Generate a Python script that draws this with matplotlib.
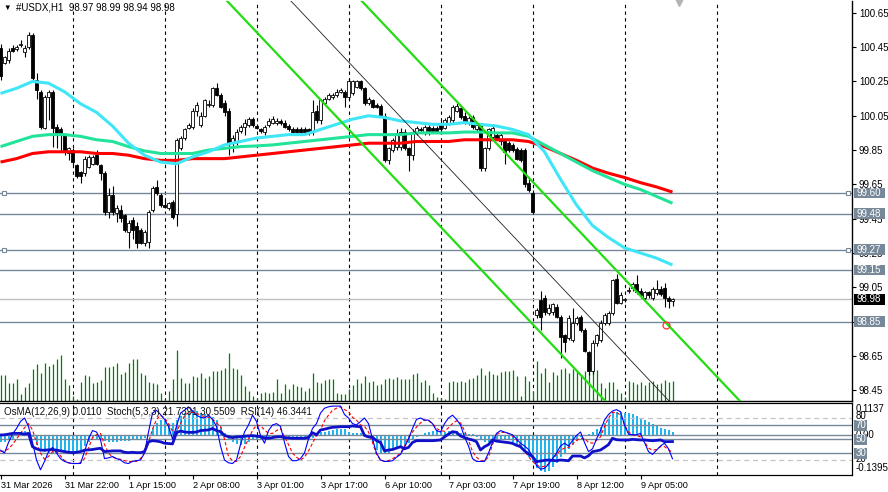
import numpy as np
import matplotlib
matplotlib.use('Agg')
from matplotlib import pyplot as plt
from matplotlib.patches import Rectangle

plt.rcParams['font.family'] = ['Liberation Sans', 'DejaVu Sans']

# ---------------- data (H1 bars, 31 Mar 2026 .. 9 Apr 2026) ----------------
opens = [100.445, 100.36, 100.375, 100.445, 100.44, 100.46, 100.42, 100.45, 100.52, 100.26,
         100.19, 99.98, 100.16, 100.19, 99.985, 99.97, 99.94, 99.83, 99.85, 99.76,
         99.72, 99.715, 99.75, 99.77, 99.82, 99.76, 99.715, 99.49, 99.59, 99.483,
         99.50, 99.47, 99.37, 99.44, 99.41, 99.384, 99.31, 99.315, 99.50, 99.635,
         99.59, 99.53, 99.51, 99.547, 99.48, 99.86, 99.92, 99.98, 99.985, 100.08,
         99.996, 100.05, 100.11, 100.11, 100.21, 100.17, 100.125, 100.08, 99.89, 99.90,
         99.96, 99.985, 99.996, 100.03, 99.99, 99.97, 99.955, 99.996, 100.01, 100.01,
         100.02, 100.01, 99.99, 99.973, 99.973, 99.973, 99.973, 99.97, 99.955, 100.08,
         100.025, 100.125, 100.15, 100.16, 100.17, 100.19, 100.19, 100.16, 100.18, 100.22,
         100.25, 100.21, 100.125, 100.14, 100.11, 100.107, 100.05, 99.79, 99.85, 99.87,
         99.87, 99.955, 99.86, 99.82, 99.95, 99.97, 99.955, 99.985, 99.98, 99.98,
         100.01, 99.98, 100.01, 100.025, 100.08, 100.095, 100.05, 100.01, 100.04, 99.97,
         99.996, 99.745, 99.86, 99.925, 99.94, 99.90, 99.90, 99.89, 99.88, 99.856,
         99.85, 99.85, 99.66, 99.60, 98.89, 98.975, 98.99, 98.90, 98.905, 98.935,
         98.876, 98.77, 98.755, 98.74, 98.84, 98.876, 98.80, 98.67, 98.56, 98.725,
         98.74, 98.84, 98.84, 98.90, 99.10, 98.96, 98.975, 99.03, 99.045, 99.07,
         99.03, 98.99, 99.02, 98.99, 99.016, 99.04, 99.045, 98.99, 98.97]
highs = [100.47, 100.40, 100.445, 100.46, 100.46, 100.49, 100.46, 100.54, 100.53, 100.30,
         100.20, 100.17, 100.20, 100.20, 100.00, 99.985, 99.95, 99.87, 99.86, 99.77,
         99.73, 99.815, 99.82, 99.82, 99.85, 99.77, 99.73, 99.63, 99.64, 99.53,
         99.53, 99.48, 99.44, 99.46, 99.43, 99.395, 99.384, 99.50, 99.64, 99.675,
         99.60, 99.56, 99.55, 99.56, 99.92, 99.93, 99.98, 100.01, 100.095, 100.13,
         100.07, 100.15, 100.14, 100.22, 100.24, 100.18, 100.14, 100.095, 99.94, 99.97,
         99.996, 100.03, 100.04, 100.04, 100.00, 99.98, 99.996, 100.035, 100.05, 100.035,
         100.03, 100.025, 100.00, 99.985, 99.985, 99.985, 99.985, 99.98, 100.14, 100.11,
         100.15, 100.16, 100.18, 100.18, 100.205, 100.21, 100.20, 100.27, 100.26, 100.26,
         100.26, 100.22, 100.16, 100.15, 100.125, 100.12, 100.065, 99.87, 99.92, 99.97,
         99.98, 99.97, 99.87, 99.97, 99.99, 99.985, 99.996, 99.996, 99.99, 99.99,
         100.025, 100.035, 100.055, 100.11, 100.125, 100.11, 100.07, 100.05, 100.055, 100.01,
         100.01, 99.87, 99.98, 100.00, 99.95, 99.95, 99.91, 99.90, 99.89, 99.87,
         99.86, 99.86, 99.69, 99.62, 98.93, 99.03, 99.005, 98.95, 98.96, 98.95,
         98.89, 98.78, 98.89, 98.93, 98.88, 98.89, 98.81, 98.68, 98.74, 98.78,
         98.86, 98.90, 98.91, 99.10, 99.13, 99.02, 98.99, 99.05, 99.08, 99.12,
         99.045, 99.03, 99.03, 99.05, 99.09, 99.06, 99.075, 99.00, 98.99]
lows = [100.26, 100.35, 100.36, 100.42, 100.43, 100.45, 100.39, 100.44, 100.26, 100.15,
        99.97, 99.97, 100.025, 99.87, 99.86, 99.84, 99.82, 99.79, 99.76, 99.69,
        99.66, 99.70, 99.745, 99.76, 99.76, 99.675, 99.47, 99.454, 99.47, 99.43,
        99.43, 99.37, 99.28, 99.33, 99.28, 99.30, 99.29, 99.28, 99.49, 99.59,
        99.52, 99.51, 99.50, 99.45, 99.41, 99.85, 99.91, 99.97, 99.97, 100.05,
        99.985, 100.04, 100.10, 100.10, 100.165, 100.095, 100.05, 99.82, 99.84, 99.88,
        99.95, 99.94, 99.985, 99.985, 99.97, 99.95, 99.94, 99.985, 100.00, 99.996,
        99.996, 99.98, 99.96, 99.95, 99.95, 99.95, 99.95, 99.94, 99.94, 100.01,
        100.00, 100.11, 100.14, 100.15, 100.16, 100.18, 100.10, 100.14, 100.17, 100.21,
        100.20, 100.11, 100.11, 100.095, 100.095, 100.04, 99.78, 99.77, 99.84, 99.85,
        99.85, 99.85, 99.73, 99.79, 99.94, 99.955, 99.94, 99.94, 99.95, 99.95,
        99.95, 99.97, 99.996, 100.01, 100.07, 100.03, 100.00, 99.996, 99.97, 99.955,
        99.73, 99.73, 99.85, 99.915, 99.91, 99.88, 99.77, 99.84, 99.84, 99.79,
        99.78, 99.635, 99.605, 99.477, 98.87, 98.80, 98.89, 98.89, 98.89, 98.87,
        98.64, 98.67, 98.74, 98.73, 98.83, 98.79, 98.67, 98.54, 98.545, 98.71,
        98.73, 98.83, 98.83, 98.89, 98.95, 98.95, 98.965, 99.015, 99.03, 99.01,
        98.99, 98.975, 98.99, 98.975, 99.005, 99.00, 98.935, 98.93, 98.94]
closes = [100.28, 100.39, 100.43, 100.43, 100.45, 100.47, 100.445, 100.52, 100.27, 100.20,
          99.985, 100.16, 100.19, 99.98, 99.95, 99.94, 99.84, 99.86, 99.78, 99.70,
          99.70, 99.80, 99.81, 99.81, 99.77, 99.715, 99.49, 99.59, 99.49, 99.51,
          99.454, 99.384, 99.425, 99.384, 99.31, 99.31, 99.37, 99.49, 99.63, 99.60,
          99.53, 99.52, 99.54, 99.46, 99.91, 99.92, 99.97, 99.996, 100.08, 100.11,
          100.05, 100.14, 100.12, 100.21, 100.17, 100.10, 100.07, 99.89, 99.92, 99.955,
          99.985, 100.01, 100.03, 99.996, 99.98, 99.96, 99.985, 100.02, 100.03, 100.02,
          100.01, 99.985, 99.97, 99.955, 99.955, 99.955, 99.955, 99.95, 100.07, 100.025,
          100.14, 100.15, 100.17, 100.17, 100.19, 100.20, 100.16, 100.25, 100.25, 100.25,
          100.21, 100.125, 100.15, 100.10, 100.10, 100.05, 99.79, 99.86, 99.91, 99.95,
          99.955, 99.86, 99.82, 99.95, 99.98, 99.965, 99.985, 99.955, 99.96, 99.96,
          99.97, 100.025, 100.04, 100.10, 100.107, 100.04, 100.01, 100.035, 99.985, 99.996,
          99.745, 99.86, 99.97, 99.98, 99.92, 99.94, 99.84, 99.85, 99.85, 99.80,
          99.79, 99.65, 99.62, 99.49, 98.92, 98.876, 98.905, 98.93, 98.95, 98.876,
          98.76, 98.73, 98.87, 98.84, 98.87, 98.80, 98.68, 98.56, 98.725, 98.77,
          98.84, 98.89, 98.90, 99.09, 98.96, 99.005, 98.98, 99.03, 99.07, 99.02,
          99.005, 99.02, 99.005, 99.04, 99.04, 99.01, 98.99, 98.97, 98.98]
volumes = [26, 26, 18, 18, 22, 7, 14, 18, 32, 37, 28, 38, 35, 37, 42, 46, 22, 16,
           5, 2,
           19, 26, 25, 18, 19, 21, 34, 34, 35, 38, 27, 29, 38, 42, 42, 28, 26, 19, 18, 17, 8, 2,
           10, 22, 51, 23, 18, 18, 25, 24, 28, 23, 25, 30, 30, 31, 33, 48, 33, 32, 26, 15, 10, 5,
           3, 8, 9, 8, 9, 22, 8, 17, 12, 17, 15, 14, 10, 13, 28, 19, 18, 21, 22, 22, 8, 7, 7,
           12, 16, 22, 18, 25, 19, 20, 16, 17, 22, 23, 22, 24, 22, 22, 22, 27, 28, 19, 21, 16, 8, 4,
           3, 2, 19, 20, 19, 20, 19, 22, 23, 26, 33, 26, 30, 27, 26, 29, 30, 30, 31, 25, 5, 25, 20,
           10, 40, 28, 33, 19, 29, 26, 32, 33, 28, 32, 30, 26, 30, 28, 34, 31, 18, 13, 19, 19, 12, 8,
           4, 20, 19, 17, 19, 16, 19, 20, 17, 18, 21, 19, 20]
vol_full = 400  # volume units spanning the whole price pane

# moving averages, read every 4th bar
ma_bars = list(range(0, 169, 4))
ma_fast = [100.18, 100.21, 100.25, 100.24, 100.19, 100.12, 100.07, 99.99, 99.89, 99.82,
           99.78, 99.77, 99.81, 99.84, 99.88, 99.90, 99.92, 99.93, 99.94, 99.94,
           99.97, 100.00, 100.03, 100.05, 100.04, 100.02, 100.01, 100.00, 100.00, 100.01,
           100.00, 99.99, 99.97, 99.94, 99.84, 99.68, 99.53, 99.41, 99.34, 99.28,
           99.25, 99.22, 99.18]
ma_mid = [99.87, 99.90, 99.93, 99.94, 99.94, 99.93, 99.91, 99.90, 99.87, 99.845,
          99.83, 99.83, 99.83, 99.85, 99.86, 99.87, 99.874, 99.88, 99.89, 99.90,
          99.91, 99.92, 99.93, 99.94, 99.94, 99.94, 99.95, 99.95, 99.95, 99.955,
          99.955, 99.95, 99.95, 99.93, 99.88, 99.83, 99.78, 99.73, 99.69, 99.65,
          99.62, 99.58, 99.54]
ma_slow = [99.78, 99.80, 99.83, 99.84, 99.84, 99.84, 99.83, 99.83, 99.82, 99.80,
           99.79, 99.79, 99.80, 99.80, 99.80, 99.81, 99.82, 99.83, 99.84, 99.85,
           99.86, 99.87, 99.88, 99.89, 99.89, 99.89, 99.90, 99.90, 99.90, 99.91,
           99.91, 99.91, 99.91, 99.90, 99.87, 99.83, 99.79, 99.745, 99.715, 99.69,
           99.66, 99.635, 99.605]

# indicator window
osma = [-0.025, -0.025, -0.018, -0.012, -0.004, 0.010, 0.015, 0.012, -0.005, -0.035,
        -0.051, -0.057, -0.061, -0.063, -0.061, -0.060, -0.057, -0.060, -0.061, -0.060,
        -0.051, -0.039, -0.024, -0.010, -0.012, -0.015, -0.021, -0.024, -0.024, -0.024,
        -0.021, -0.021, -0.020, -0.016, -0.015, -0.015, -0.011, 0.000, 0.025, 0.043,
        0.055, 0.050, 0.041, 0.042, 0.055, 0.067, 0.080, 0.086, 0.088, 0.084,
        0.080, 0.075, 0.070, 0.065, 0.055, 0.028, 0.008, -0.012, -0.022, -0.030,
        -0.033, -0.029, -0.024, -0.017, -0.014, -0.012, -0.012, -0.008, -0.005, -0.005,
        -0.005, -0.005, -0.007, -0.010, -0.012, -0.012, -0.012, -0.012, -0.008, 0.003,
        0.010, 0.012, 0.016, 0.019, 0.021, 0.024, 0.021, 0.012, 0.009, 0.009,
        0.007, 0.005, -0.005, -0.022, -0.051, -0.063, -0.066, -0.061, -0.051, -0.047,
        -0.040, -0.033, -0.026, -0.016, -0.006, 0.001, 0.007, 0.011, 0.015, 0.019,
        0.016, 0.013, 0.015, 0.016, 0.014, 0.009, 0.007, 0.006, 0.004, -0.005,
        -0.016, -0.022, -0.022, -0.020, -0.016, -0.014, -0.014, -0.016, -0.023, -0.033,
        -0.040, -0.054, -0.075, -0.095, -0.114, -0.124, -0.128, -0.124, -0.110, -0.096,
        -0.075, -0.061, -0.047, -0.034, -0.019, -0.007, 0.001, 0.006, 0.011, 0.021,
        0.030, 0.044, 0.060, 0.077, 0.083, 0.083, 0.080, 0.077, 0.074, 0.068,
        0.060, 0.053, 0.047, 0.040, 0.033, 0.025, 0.021, 0.019, 0.011]
stoch_main = [34, 30, 45, 57, 65, 75, 80, 68, 45, 20,
              6, 18, 32, 38, 30, 22, 18, 16, 15, 15,
              15, 32, 50, 62, 60, 49, 22, 23, 25, 22,
              20, 16, 15, 18, 19, 20, 30, 60, 87, 91,
              85, 78, 68, 50, 68, 87, 91, 96, 90, 84,
              81, 80, 84, 78, 68, 40, 20, 16, 15, 20,
              42, 60, 70, 84, 75, 55, 44, 62, 70, 72,
              68, 45, 25, 19, 19, 22, 30, 50, 65, 72,
              87, 94, 96, 97, 97, 97, 85, 80, 72, 70,
              75, 80, 72, 50, 30, 20, 18, 18, 19, 24,
              28, 38, 50, 65, 78, 80, 77, 77, 72, 62,
              60, 72, 80, 84, 78, 70, 53, 40, 22, 18,
              18, 18, 30, 45, 58, 62, 60, 58, 56, 50,
              44, 40, 35, 25, 12, 7, 8, 14, 22, 30,
              40, 44, 40, 48, 55, 60, 45, 32, 36, 50,
              62, 77, 85, 90, 92, 89, 70, 57, 56, 56,
              58, 45, 32, 28, 34, 40, 44, 36, 21.74]
stoch_signal = [32, 33, 36, 42, 50, 58, 66, 72, 63, 45,
                30, 21, 25, 32, 32, 26, 19, 16, 15, 15,
                16, 22, 37, 52, 56, 58, 42, 30, 24, 22,
                21, 19, 18, 18, 18, 22, 30, 45, 64, 78,
                84, 80, 72, 61, 60, 72, 83, 88, 88, 87,
                84, 82, 81, 78, 73, 68, 50, 25, 19, 18,
                25, 38, 50, 62, 70, 69, 63, 58, 58, 62,
                65, 53, 42, 30, 24, 20, 24, 33, 44, 55,
                63, 76, 84, 91, 94, 96, 92, 89, 81, 77,
                70, 68, 60, 45, 28, 20, 18, 19, 22, 25,
                30, 40, 52, 60, 67, 73, 77, 76, 72, 65,
                62, 61, 66, 72, 76, 73, 62, 48, 32, 24,
                19, 19, 24, 42, 56, 60, 59, 58, 54, 49,
                40, 33, 25, 18, 13, 10, 11, 14, 20, 28,
                34, 37, 38, 43, 48, 51, 51, 45, 44, 48,
                53, 68, 80, 88, 88, 84, 70, 60, 56, 55,
                53, 46, 37, 34, 35, 39, 39, 35, 30.55]
rsi = [55.7, 56, 57, 58, 58, 58, 57, 58, 39, 36,
       34, 34, 34.5, 35, 34, 33, 32, 31, 30.5, 31,
       32, 34, 34.5, 35, 36, 36.7, 32, 32.5, 33, 33,
       33, 31, 30.5, 31, 30.5, 30.5, 32, 46, 47.6, 47,
       46, 44, 43.5, 43, 59, 61.4, 60, 59.5, 59.5, 60,
       62, 62.5, 63, 65, 62, 60.5, 55, 53.3, 52, 53,
       53.3, 54, 54.5, 54.8, 54, 53.3, 51.5, 51, 52, 53,
       53.3, 52, 51.5, 51, 51, 51, 51, 52.4, 59, 56,
       62.9, 64, 65.5, 66.7, 67, 67.6, 67.6, 67.6, 68.6, 68,
       67.6, 55, 53, 52.4, 47.6, 45, 33, 34.3, 35, 37,
       39, 36, 38, 45, 47.6, 47.6, 47.6, 47.6, 47.6, 48,
       48.6, 53, 57, 60.5, 59.5, 54.3, 52, 50, 48.6, 46.2,
       34.3, 39, 42, 48.6, 47, 46.2, 45.5, 44.8, 43.8, 41,
       39, 33, 29, 24.8, 17.6, 18.6, 19.5, 20, 19.5, 19,
       20, 19.5, 19, 25.7, 25.7, 25.7, 23, 26, 31.9, 33,
       34.3, 38, 42, 51, 49, 48.6, 48.6, 48.6, 49.5, 49,
       48.6, 48.6, 48, 47.6, 48, 48.6, 46.2, 46.3, 46.34]

# chart objects
price_ticks = [98.45, 98.65, 98.85, 99.05, 99.25, 99.45, 99.65, 99.85, 100.05, 100.25, 100.45, 100.65]
hlines_plain = [99.48, 99.15, 98.85]
hlines_marked = [99.60, 99.27]
bid = 98.98
channel_upper = [(100, 100.48), (160, 99.00)]
channel_lower = [(70, 100.39), (130, 98.91)]
channel_mid = [(90, 100.29), (150, 98.81)]
alert_point = (166.4, 98.83)
day_starts = [18, 41, 64, 87, 110, 133, 156, 179]
time_ticks = [0, 16, 32, 48, 64, 80, 96, 112, 128, 144, 160]
time_labels = ['31 Mar 2026', '31 Mar 22:00', '1 Apr 15:00', '2 Apr 08:00', '3 Apr 01:00',
               '3 Apr 17:00', '6 Apr 10:00', '7 Apr 03:00', '7 Apr 19:00', '8 Apr 12:00',
               '9 Apr 05:00']

# ---------------- figure ----------------
W, H = 888, 492
fig = plt.figure(figsize=(W / 100, H / 100), dpi=100)
fig.patch.set_facecolor('white')


def fx(px):
    return px / W


def fy(py):
    return 1 - py / H


xlim = (-0.125, 212.875)
GRAY = '#778899'

# ---- price pane ----
ax = fig.add_axes([0, fy(401), fx(852), 400 / H])
ax.set_xlim(*xlim)
ax.set_ylim(98.387, 100.719)
for s in ['left', 'top']:
    ax.spines[s].set_visible(False)
for s in ['right', 'bottom']:
    ax.spines[s].set_linewidth(1.0)
ax.set_xticks([])
ax.yaxis.tick_right()
ax.set_yticks(price_ticks)
ax.set_yticklabels([f'{v:.2f}' for v in price_ticks], fontsize=7)
ax.tick_params(axis='y', length=3, width=0.8, pad=2)

for d in day_starts:
    ax.axvline(d, color='black', lw=0.8, ls=(0, (3, 3)), zorder=1)

x = np.arange(len(closes))
o = np.array(opens)
h = np.array(highs)
l = np.array(lows)
c = np.array(closes)

# volumes at the bottom of the price pane
ax.vlines(x, 0, np.array(volumes) / vol_full, transform=ax.get_xaxis_transform(),
          color='#008000', lw=0.9, zorder=1.5)

# candles
ax.vlines(x, l, h, color='black', lw=0.8, zorder=3)
body_lo = np.minimum(o, c)
body_h = np.maximum(np.abs(c - o), 0.003)
ax.bar(x, body_h, bottom=body_lo, width=0.7,
       color=['white' if cc >= oo else 'black' for oo, cc in zip(opens, closes)],
       edgecolor='black', lw=0.6, zorder=4)

# horizontal objects
for v in hlines_plain:
    ax.axhline(v, color=GRAY, lw=1.0, zorder=2.5)
for v in hlines_marked:
    ax.axhline(v, color=GRAY, lw=1.0, zorder=2.5)
    ax.plot([xlim[0] + 0.9, xlim[1] - 0.9], [v, v], ls='none', marker='s', ms=3.2,
            mfc='white', mec=GRAY, mew=0.8, zorder=2.6, clip_on=False)
ax.axhline(bid, color='#BEBEBE', lw=1.0, zorder=2.4)

# moving averages
ax.plot(ma_bars, ma_slow, color='#FF0000', lw=2.2, zorder=5, solid_capstyle='butt')
ax.plot(ma_bars, ma_mid, color='#22E39A', lw=2.2, zorder=5.1, solid_capstyle='butt')
ax.plot(ma_bars, ma_fast, color='#3EE6F8', lw=2.2, zorder=5.2, solid_capstyle='butt')

# channel
ax.axline(channel_upper[0], channel_upper[1], color='#22DD11', lw=1.6, zorder=6)
ax.axline(channel_lower[0], channel_lower[1], color='#22DD11', lw=1.6, zorder=6)
ax.axline(channel_mid[0], channel_mid[1], color='#202020', lw=0.6, zorder=6)
ax.plot(*alert_point, marker='o', ms=5, mfc='none', mec='#FF3030', mew=0.9, zorder=7)

# chart shift marker
ax.plot(169.6, 100.711, marker='v', ms=6, color='#B4B4B4', clip_on=False, zorder=7)

# price boxes on the right scale
ytr = ax.get_yaxis_transform()
for v, fc in [(99.60, GRAY), (99.48, GRAY), (99.27, GRAY), (99.15, GRAY), (98.85, GRAY), (bid, 'black')]:
    ax.add_patch(Rectangle((854 / 852, v - 0.031), 31 / 852, 0.062, transform=ytr,
                           facecolor=fc, edgecolor='none', clip_on=False, zorder=8))
    ax.text(856 / 852, v, f'{v:.2f}', transform=ytr, ha='left', va='center',
            color='white', fontsize=7, clip_on=False, zorder=9)

# title
fig.text(fx(3), fy(8), '\u25bc', fontsize=5.5, va='center', ha='left')
fig.text(fx(16), fy(8), '#USDX,H1  98.97 98.99 98.94 98.98', fontsize=7, va='center', ha='left')

# ---- indicator pane ----
oax = fig.add_axes([0, fy(475), fx(852), 72 / H])
oax.set_xlim(*xlim)
oax.set_ylim(-0.1395, 0.1137)
oax.spines['left'].set_visible(False)
oax.set_yticks([])
oax.bar(x, osma, width=0.5, color='#1FB6F0', zorder=2)
oax.axhline(0, color=GRAY, lw=1.0, zorder=3)
for d in day_starts:
    oax.axvline(d, color='black', lw=0.8, ls=(0, (3, 3)), zorder=1)
oax.set_xticks(time_ticks)
oax.set_xticklabels(time_labels, fontsize=6.6)
for lab in oax.get_xticklabels():
    lab.set_ha('left')
oax.tick_params(axis='x', length=3, width=0.8, pad=1.5)

iax = oax.twinx()
iax.set_ylim(-1.43, 101.43)
iax.set_yticks([])
iax.spines['left'].set_visible(False)
iax.tick_params(bottom=False, labelbottom=False)
for lvl in [80, 20]:
    iax.axhline(lvl, color='#C4C4C4', lw=0.9, ls=(0, (4, 3)), zorder=1)
for lvl in [70, 50, 30]:
    iax.axhline(lvl, color=GRAY, lw=1.0, zorder=1)
iax.plot(x, stoch_signal, color='#FF0000', lw=0.8, ls=(0, (3, 2)), zorder=3)
iax.plot(x, stoch_main, color='#0000FF', lw=0.8, zorder=4)
iax.plot(x, rsi, color='#1010C8', lw=2.0, zorder=5)

fig.text(fx(4), fy(412), 'OsMA(12,26,9) 0.0110  Stoch(5,3,3) 21.7391 30.5509  RSI(14) 46.3441',
         fontsize=7, va='center', ha='left', color='#101010')

# right scale of the indicator pane
for txt, py in [('0.1137', 409), ('80', 416), ('0.00', 435), ('20', 459), ('-0.1395', 468)]:
    fig.text(fx(856), fy(py), txt, fontsize=7, va='center', ha='left')
for lvl in [70, 50, 30]:
    py = 474 - 0.7 * lvl
    fig.patches.append(Rectangle((fx(854), fy(py + 5.5)), 13 / W, 11 / H, transform=fig.transFigure,
                                 facecolor=GRAY, edgecolor='none', zorder=8))
    fig.text(fx(855.5), fy(py), str(lvl), fontsize=7, va='center', ha='left', color='white', zorder=9)

fig.savefig('out.png', dpi=100)
